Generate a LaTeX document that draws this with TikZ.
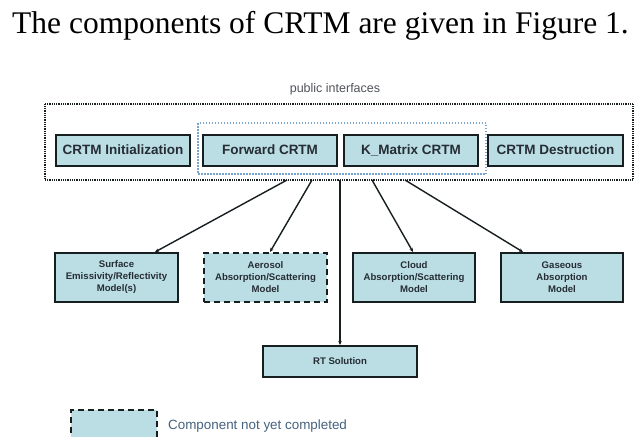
\documentclass[tikz,border=0pt]{standalone}
\usepackage{fontspec}
\setmainfont{Liberation Serif}
\setsansfont{Liberation Sans}
\usetikzlibrary{arrows.meta}
\definecolor{boxfill}{RGB}{186,222,228}
\definecolor{boxline}{RGB}{22,30,32}
\definecolor{boxtext}{RGB}{38,44,52}
\definecolor{innerblue}{RGB}{120,165,205}
\definecolor{legtext}{RGB}{70,98,128}
\definecolor{pubtext}{RGB}{80,84,90}
\tikzset{
  x=1pt, y=-1pt,
  topbox/.style={draw=boxline, line width=2pt, fill=boxfill, minimum width=134pt, minimum height=31pt,
    inner sep=0pt, font=\sffamily\bfseries\fontsize{13.5}{15}\selectfont, text=boxtext},
  modbox/.style={draw=boxline, line width=2pt, fill=boxfill, minimum width=123pt, minimum height=49pt,
    inner sep=0pt, align=center, font=\sffamily\bfseries\fontsize{9.6}{12}\selectfont, text=boxtext},
  pendbox/.style={modbox, dashed, dash pattern=on 6pt off 4pt},
  link/.style={draw=boxline, line width=1.4pt, -{Stealth[length=4pt,width=3.5pt]}},
}
\begin{document}
\begin{tikzpicture}
\useasboundingbox (0,0) rectangle (636,436);
\fill[white] (0,0) rectangle (636,436);
\node[anchor=base west, inner sep=0pt, font=\fontsize{31.5}{36}\selectfont] (caption) at (12,34) {The components of CRTM are given in Figure 1.};
\node[font=\sffamily\fontsize{12.5}{14}\selectfont, text=pubtext] (pubtitle) at (335,89) {public interfaces};
\node[draw=boxline, line width=2pt, dash pattern=on 1pt off 0.8pt, minimum width=588pt, minimum height=76pt, inner sep=0pt] (outer) at (339,141.5) {};
\node[draw=innerblue, line width=1.5pt, dash pattern=on 1.5pt off 1.5pt, minimum width=288pt, minimum height=51pt, inner sep=0pt] (inner) at (342,148.5) {};
\node[topbox] (init) at (123,150) {CRTM Initialization};
\node[topbox] (fwd) at (270,150) {Forward CRTM};
\node[topbox] (kmat) at (411,150) {K\_Matrix CRTM};
\node[topbox, minimum width=135pt] (destr) at (555.5,150) {CRTM Destruction};
\node[modbox] (surf) at (116.5,277.5) {Surface\\Emissivity/Reflectivity\\Model(s)};
\node[pendbox] (aero) at (265.5,277.5) {Aerosol\\Absorption/Scattering\\Model};
\node[modbox, minimum width=122pt] (cloud) at (414,277.5) {Cloud\\Absorption/Scattering\\Model};
\node[modbox, minimum width=122pt] (gas) at (562,277.5) {Gaseous\\Absorption\\Model};
\node[modbox, minimum width=154pt, minimum height=31pt] (rt) at (340,361.5) {RT Solution};
\node[pendbox, minimum width=86pt, minimum height=31pt] (legbox) at (114,425.5) {};
\node[anchor=west, inner sep=0pt, font=\sffamily\fontsize{13.4}{15}\selectfont, text=legtext] (legtext) at (168,426) {Component not yet completed};
\coordinate (s1) at (287,180);
\coordinate (s2) at (312,180);
\coordinate (s3) at (340,180);
\coordinate (s4) at (372,180);
\coordinate (s5) at (405,180);
\draw[link] (s1) -- (surf.north -| 155,0);
\draw[link] (s2) -- (aero.north -| 270,0);
\draw[link] (s3) -- (rt.north);
\draw[link] (s4) -- (cloud.north -| 413,0);
\draw[link] (s5) -- (gas.north -| 523,0);
\end{tikzpicture}
\end{document}
